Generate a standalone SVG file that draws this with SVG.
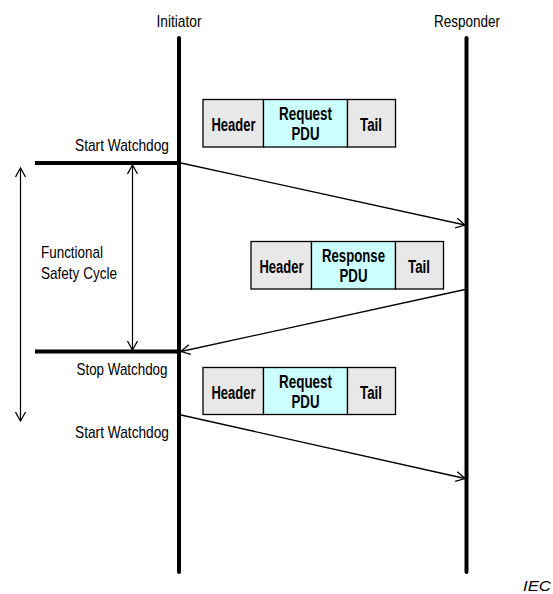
<svg xmlns="http://www.w3.org/2000/svg" width="553" height="594" viewBox="0 0 553 594">
<style>
.t{font-family:"Liberation Sans",Arial,sans-serif;font-size:17px;fill:#000}
.b{font-family:"Liberation Sans",Arial,sans-serif;font-size:17.5px;font-weight:bold;fill:#000}
.g{fill:#e8e8e8;stroke:#000;stroke-width:1.3}
.c{fill:#ccffff;stroke:#000;stroke-width:1.3}
.life{stroke:#000;stroke-width:4;stroke-linecap:round;fill:none}
.wd{stroke:#000;stroke-width:4;fill:none}
.msg{stroke:#000;stroke-width:1.3;fill:none;marker-end:url(#ah)}
.dim{stroke:#000;stroke-width:1.2;fill:none;marker-start:url(#ahs);marker-end:url(#ah)}
</style>
<defs>
<marker id="ah" viewBox="-10 -6 12 12" refX="0" refY="0" markerWidth="12" markerHeight="12" markerUnits="userSpaceOnUse" orient="auto">
<path d="M-9,-5 L0,0 L-9,5" fill="none" stroke="#000" stroke-width="1.3"/>
</marker>
<marker id="ahs" viewBox="-2 -6 12 12" refX="0" refY="0" markerWidth="12" markerHeight="12" markerUnits="userSpaceOnUse" orient="auto">
<path d="M9,-5 L0,0 L9,5" fill="none" stroke="#000" stroke-width="1.3"/>
</marker>
</defs>

<g id="initiator">
<text class="t" x="179" y="27" text-anchor="middle" textLength="45" lengthAdjust="spacingAndGlyphs">Initiator</text>
<line class="life" x1="179" y1="38" x2="179" y2="572"/>
</g>
<g id="responder">
<text class="t" x="467" y="27" text-anchor="middle" textLength="66" lengthAdjust="spacingAndGlyphs">Responder</text>
<line class="life" x1="466.5" y1="38" x2="466.5" y2="572"/>
</g>

<g id="pdu1">
<rect class="g" x="203" y="99.5" width="60.5" height="47.5"/>
<rect class="c" x="263.5" y="99.5" width="84" height="47.5"/>
<rect class="g" x="347.5" y="99.5" width="48" height="47.5"/>
<text class="b" x="233.5" y="130.5" text-anchor="middle" textLength="44" lengthAdjust="spacingAndGlyphs">Header</text>
<text class="b" x="305.5" y="120" text-anchor="middle" textLength="53" lengthAdjust="spacingAndGlyphs">Request</text>
<text class="b" x="305.5" y="139.5" text-anchor="middle" textLength="28" lengthAdjust="spacingAndGlyphs">PDU</text>
<text class="b" x="371" y="130.5" text-anchor="middle" textLength="22" lengthAdjust="spacingAndGlyphs">Tail</text>
</g>

<g id="pdu2">
<rect class="g" x="251" y="241.5" width="60.5" height="47.5"/>
<rect class="c" x="311.5" y="241.5" width="84" height="47.5"/>
<rect class="g" x="395.5" y="241.5" width="48" height="47.5"/>
<text class="b" x="281.5" y="272.5" text-anchor="middle" textLength="44" lengthAdjust="spacingAndGlyphs">Header</text>
<text class="b" x="353.5" y="262" text-anchor="middle" textLength="63" lengthAdjust="spacingAndGlyphs">Response</text>
<text class="b" x="353.5" y="281.5" text-anchor="middle" textLength="28" lengthAdjust="spacingAndGlyphs">PDU</text>
<text class="b" x="419" y="272.5" text-anchor="middle" textLength="22" lengthAdjust="spacingAndGlyphs">Tail</text>
</g>

<g id="pdu3">
<rect class="g" x="203" y="367.5" width="60.5" height="47"/>
<rect class="c" x="263.5" y="367.5" width="84" height="47"/>
<rect class="g" x="347.5" y="367.5" width="48" height="47"/>
<text class="b" x="233.5" y="398.5" text-anchor="middle" textLength="44" lengthAdjust="spacingAndGlyphs">Header</text>
<text class="b" x="305.5" y="388" text-anchor="middle" textLength="53" lengthAdjust="spacingAndGlyphs">Request</text>
<text class="b" x="305.5" y="407.5" text-anchor="middle" textLength="28" lengthAdjust="spacingAndGlyphs">PDU</text>
<text class="b" x="371" y="398.5" text-anchor="middle" textLength="22" lengthAdjust="spacingAndGlyphs">Tail</text>
</g>

<g id="start-watchdog-1">
<text class="t" x="169" y="151" text-anchor="end" textLength="94" lengthAdjust="spacingAndGlyphs">Start Watchdog</text>
<line class="wd" x1="35" y1="163" x2="181" y2="163"/>
</g>
<g id="stop-watchdog">
<line class="wd" x1="35" y1="351.5" x2="181" y2="351.5"/>
<text class="t" x="167.5" y="375" text-anchor="end" textLength="91" lengthAdjust="spacingAndGlyphs">Stop Watchdog</text>
</g>
<g id="start-watchdog-2">
<text class="t" x="169" y="437.5" text-anchor="end" textLength="94" lengthAdjust="spacingAndGlyphs">Start Watchdog</text>
</g>
<g id="fsc-label">
<text class="t" x="41" y="258" textLength="62" lengthAdjust="spacingAndGlyphs">Functional</text>
<text class="t" x="41" y="279" textLength="76" lengthAdjust="spacingAndGlyphs">Safety Cycle</text>
</g>

<g id="connectors">
<line class="msg" x1="181" y1="163" x2="465" y2="225"/>
<line class="msg" x1="465" y1="289.5" x2="181" y2="351.5"/>
<line class="msg" x1="181" y1="415" x2="465" y2="478.5"/>
<line class="dim" x1="132.5" y1="165" x2="132.5" y2="350"/>
<line class="dim" x1="20.5" y1="168" x2="20.5" y2="421"/>
</g>

<text x="551" y="591" text-anchor="end" textLength="28" lengthAdjust="spacingAndGlyphs" style="font-family:'Liberation Sans',Arial,sans-serif;font-size:14px;font-style:italic">IEC</text>
</svg>
